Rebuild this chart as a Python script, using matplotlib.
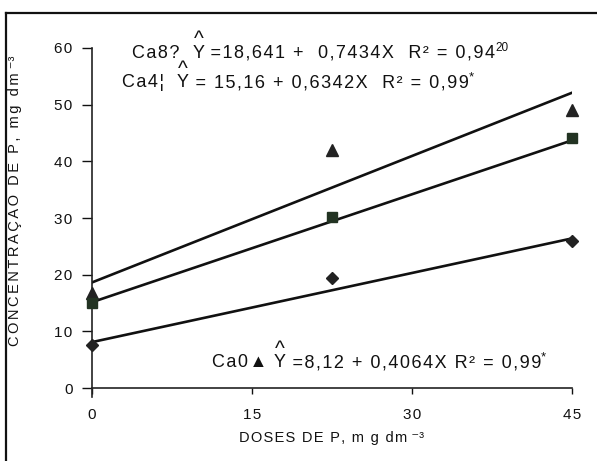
import numpy as np
import matplotlib.pyplot as plt
from matplotlib.lines import Line2D

plt.rcParams['font.family'] = ['Liberation Sans', 'DejaVu Sans']

# doses de P (mg dm-3)
doses = [0, 22.5, 45]
# pontos observados
ca0 = [7.6, 19.4, 25.9]
ca4 = [15.1, 30.2, 44.1]
ca8 = [16.7, 42.0, 49.0]
# ajustes lineares
coef = {'ca0': (8.12, 0.4064), 'ca4': (15.16, 0.6342), 'ca8': (18.641, 0.7434)}

xticks = [0, 15, 30, 45]
yticks = [0, 10, 20, 30, 40, 50, 60]

HS = '\u200a'  # hair space, the scan has wide letter spacing


def sp(s, n=1):
    return (HS * n).join(s)


fig = plt.figure(figsize=(5.97, 4.61), dpi=100)
ax = fig.add_axes([0.154, 0.158, 0.804, 0.738])

xx = np.array([0, 45])
for k in ['ca8', 'ca4', 'ca0']:
    a, b = coef[k]
    ax.plot(xx, a + b * xx, color='#111111', lw=1.9, zorder=2)

ax.plot(doses, ca8, ls='', marker='^', ms=9, color='#222222', zorder=3, clip_on=False)
ax.plot(doses, ca4, ls='', marker='s', ms=7.5, color='#223322', zorder=3, clip_on=False)
ax.plot(doses, ca0, ls='', marker='D', ms=6.5, color='#222222', zorder=3, clip_on=False)

ax.set_xlim(0, 45)
ax.set_ylim(0, 60)
ax.set_xticks(xticks)
ax.set_xticklabels([sp(str(v)) for v in xticks])
ax.set_yticks(yticks)
ax.set_yticklabels([sp(str(v)) for v in yticks])
for s in ['top', 'right']:
    ax.spines[s].set_visible(False)
for s in ['left', 'bottom']:
    ax.spines[s].set_linewidth(1.2)
    ax.spines[s].set_color('#222222')
ax.spines['left'].set_bounds(-1.5, 60)
ax.tick_params(axis='y', direction='out', length=7, width=1, pad=7,
               labelsize=11, colors='#111111')
ax.tick_params(axis='x', direction='out', length=4, width=1, pad=10,
               labelsize=11, colors='#111111')

ax.set_xlabel(sp('DOSES DE P, m g dm') + ' ⁻³', fontsize=10.5, color='#111111',
              labelpad=7)
ax.set_ylabel(sp('CONCENTRAÇÃO DE P, mg dm', 2) + ' ⁻³', fontsize=10.5,
              color='#111111')
ax.yaxis.set_label_coords(-0.146, 0.55)


def equation(x, y, pre, rest, sup, supsize):
    t1 = ax.text(x, y, sp(pre), transform=ax.transAxes, fontsize=13,
                 ha='left', va='bottom', color='#111111')
    t2 = ax.annotate('Y', xy=(1, 0), xycoords=t1, fontsize=13,
                     ha='left', va='bottom', color='#111111')
    ax.annotate('^', xy=(0.5, 0.72), xycoords=t2, fontsize=15,
                ha='center', va='bottom', color='#111111')
    t3 = ax.annotate(sp(rest), xy=(1, 0), xycoords=t2, fontsize=13,
                     ha='left', va='bottom', color='#111111')
    ax.annotate(sup, xy=(1, 0.45), xycoords=t3, fontsize=supsize,
                ha='left', va='bottom', color='#111111')


equation(0.083, 0.96, 'Ca8?  ', ' =18,641 +  0,7434X  R² = 0,94', '20', 8.5)
equation(0.062, 0.872, 'Ca4¦  ', ' = 15,16 + 0,6342X  R² = 0,99', '*', 9.5)
equation(0.25, 0.05, 'Ca0▲ ', ' =8,12 + 0,4064X R² = 0,99', '*', 9.5)

# moldura da figura digitalizada
fig.add_artist(Line2D([6 / 597, 1], [1 - 13 / 461, 1 - 13 / 461],
                      transform=fig.transFigure, color='#111111', lw=1.6))
fig.add_artist(Line2D([6 / 597, 6 / 597], [0, 1 - 13 / 461],
                      transform=fig.transFigure, color='#111111', lw=1.6))

fig.savefig('out.png', dpi=100)
